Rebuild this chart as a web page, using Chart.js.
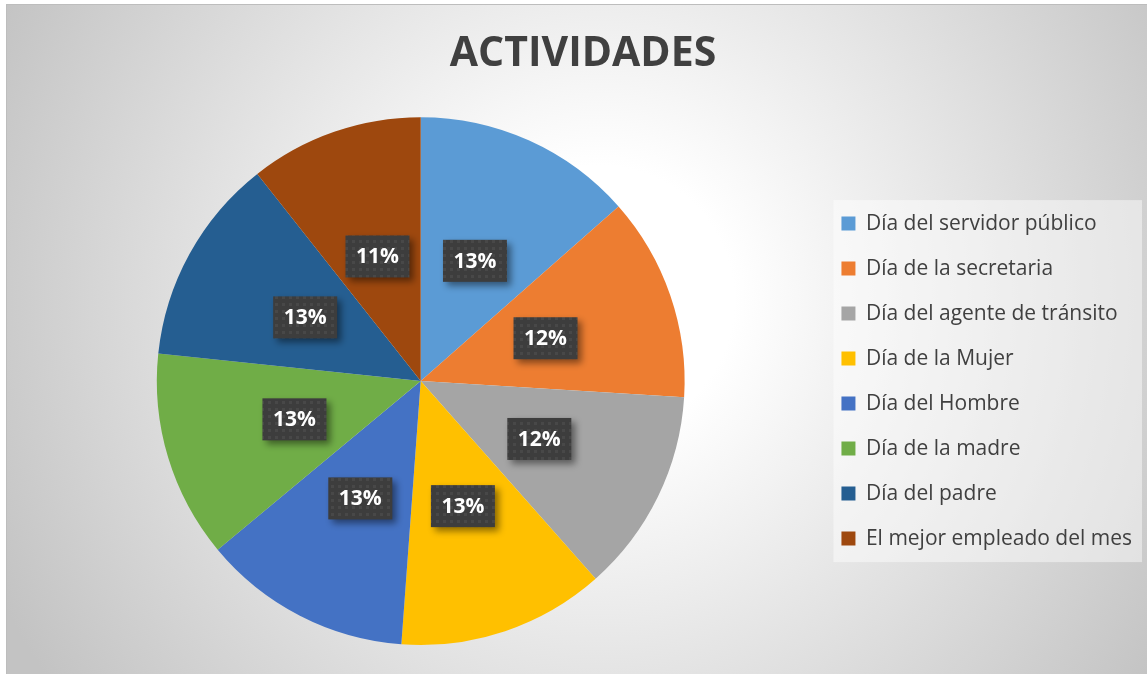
<!DOCTYPE html>
<html>
<head>
<meta charset="utf-8">
<script src="https://cdn.jsdelivr.net/npm/chart.js@4.4.0/dist/chart.umd.min.js"></script>
<style>
  html, body { margin: 0; padding: 0; background: #fff; }
  canvas { display: block; }
</style>
</head>
<body>
<canvas id="pieChart" width="1147" height="674"></canvas>
<script>
// Datos del gráfico
const categorias = [
    'Día del servidor público',
    'Día de la secretaria',
    'Día del agente de tránsito',
    'Día de la Mujer',
    'Día del Hombre',
    'Día de la madre',
    'Día del padre',
    'El mejor empleado del mes'
];
const valores = [13.49, 12.49, 12.49, 12.7, 12.8, 12.7, 12.7, 10.63];
const colores = ['#5B9BD5', '#ED7D31', '#A5A5A5', '#FFC000', '#4472C4', '#70AD47', '#255E91', '#9E480E'];

// Fondo con degradado radial y marco
const fondo = {
    id: 'fondo',
    beforeDraw(chart) {
        const ctx = chart.ctx;
        const w = chart.width, h = chart.height;
        ctx.save();
        ctx.fillStyle = '#ffffff';
        ctx.fillRect(0, 0, w, h);
        const g = ctx.createRadialGradient(600, 300, 0, 600, 300, 670);
        g.addColorStop(0, '#ffffff');
        g.addColorStop(0.2, '#ffffff');
        g.addColorStop(1, '#c3c3c3');
        ctx.fillStyle = g;
        ctx.fillRect(6, 4, w - 6, h - 4);
        ctx.strokeStyle = '#bdbdbd';
        ctx.lineWidth = 1;
        ctx.strokeRect(6.5, 4.5, w, h);

        // caja de la leyenda
        const lg = chart.legend;
        const hb = lg.legendHitBoxes;
        if (hb && hb.length) {
            const top = hb[0].top - 13;
            const bottom = hb[hb.length - 1].top + hb[hb.length - 1].height + 13;
            ctx.fillStyle = 'rgba(255,255,255,0.45)';
            ctx.fillRect(hb[0].left - 8, top, lg.right - (hb[0].left - 8), bottom - top);
        }
        ctx.restore();
    }
};

// patrón punteado de las etiquetas
function crearPatron(ctx) {
    const c = document.createElement('canvas');
    c.width = 7; c.height = 7;
    const p = c.getContext('2d');
    p.fillStyle = '#3d3d3d';
    p.fillRect(0, 0, 7, 7);
    p.fillStyle = '#484848';
    p.fillRect(2, 2, 3, 3);
    return ctx.createPattern(c, 'repeat');
}

// Etiquetas de porcentaje
const etiquetas = {
    id: 'etiquetas',
    afterDatasetsDraw(chart) {
        const ctx = chart.ctx;
        const meta = chart.getDatasetMeta(0);
        const datos = chart.data.datasets[0].data;
        const total = datos.reduce((a, b) => a + b, 0);
        const patron = crearPatron(ctx);
        meta.data.forEach((arc, i) => {
            const {x, y, startAngle, endAngle, outerRadius} = arc.getProps(['x', 'y', 'startAngle', 'endAngle', 'outerRadius'], true);
            const mid = (startAngle + endAngle) / 2;
            const px = x + Math.cos(mid) * outerRadius * 0.5;
            const py = y + Math.sin(mid) * outerRadius * 0.5;
            const bw = 64, bh = 42;
            ctx.save();
            ctx.shadowColor = 'rgba(0,0,0,0.45)';
            ctx.shadowBlur = 7;
            ctx.shadowOffsetX = 4;
            ctx.shadowOffsetY = 4;
            ctx.fillStyle = patron;
            ctx.fillRect(px - bw / 2, py - bh / 2, bw, bh);
            ctx.restore();
            ctx.save();
            ctx.fillStyle = '#ffffff';
            ctx.font = 'bold 21px "Open Sans"';
            ctx.textAlign = 'center';
            ctx.textBaseline = 'middle';
            ctx.fillText(Math.round(datos[i] / total * 100) + '%', px, py + 1);
            ctx.restore();
        });
    }
};

new Chart(document.getElementById('pieChart'), {
    type: 'pie',
    data: {
        labels: categorias,
        datasets: [{
            data: valores,
            backgroundColor: colores,
            borderWidth: 0
        }]
    },
    options: {
        responsive: false,
        animation: false,
        events: [],
        layout: {
            padding: { left: 24, right: 5, top: 4, bottom: 29 }
        },
        plugins: {
            title: {
                display: true,
                text: 'ACTIVIDADES',
                color: '#404040',
                font: { family: 'Open Sans', size: 41, weight: 'bold' },
                padding: { top: 26, bottom: 38 }
            },
            legend: {
                position: 'right',
                fullSize: false,
                labels: {
                    color: '#404040',
                    font: { family: 'Open Sans', size: 21 },
                    boxWidth: 14,
                    boxHeight: 14,
                    padding: 24
                }
            },
            tooltip: { enabled: false }
        }
    },
    plugins: [fondo, etiquetas]
});
</script>
</body>
</html>
